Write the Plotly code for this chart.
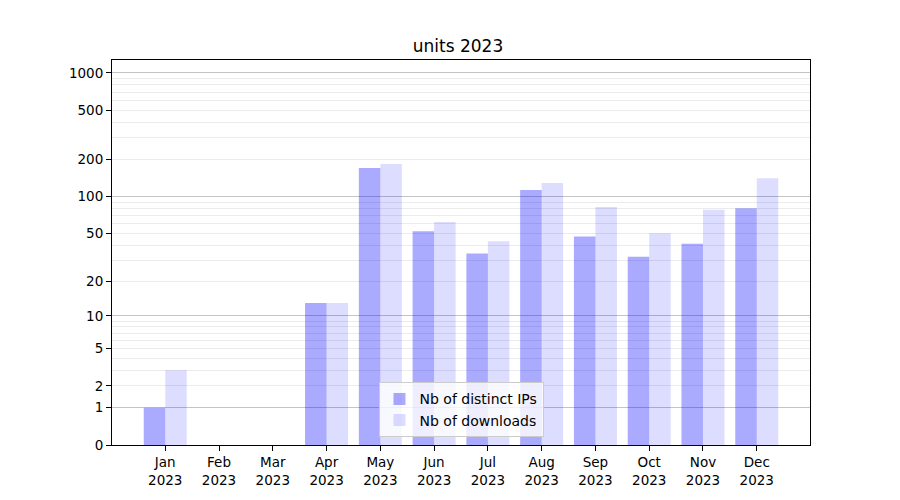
import plotly.graph_objects as go

months = ["Jan", "Feb", "Mar", "Apr", "May", "Jun", "Jul", "Aug", "Sep", "Oct", "Nov", "Dec"]
year = "2023"
distinct_ips = [1, 0, 0, 13, 170, 52, 34, 113, 47, 32, 41, 80]
downloads = [3, 0, 0, 13, 184, 62, 43, 129, 82, 50, 78, 141]
y_tick_labels = [0, 1, 2, 5, 10, 20, 50, 100, 200, 500, 1000]
major_grid = [1, 10, 100, 1000]
minor_grid = [m * d for d in (1, 10, 100) for m in range(2, 10)]

# symlog-like axis: log10(1 + value)
def sh(vals):
    return [v + 1 for v in vals]

x = list(range(len(months)))
ticktext = [f"{m}<br>{year}" for m in months]

fig = go.Figure()
fig.add_trace(go.Bar(x=x, y=sh(distinct_ips), width=0.4, offset=-0.4,
                     marker=dict(color="rgba(0,0,255,0.333)", line=dict(width=0)),
                     name="Nb of distinct IPs"))
fig.add_trace(go.Bar(x=x, y=sh(downloads), width=0.4, offset=0.0,
                     marker=dict(color="rgba(0,0,255,0.133)", line=dict(width=0)),
                     name="Nb of downloads"))
fig.add_trace(go.Scatter(x=[0], y=[1], yaxis="y2", mode="markers",
                         marker=dict(opacity=0), showlegend=False, hoverinfo="skip"))

yrange = [0, 3.105]
font = "DejaVu Sans, Liberation Sans, sans-serif"
fig.update_layout(
    width=900, height=500,
    margin=dict(l=104, r=98, t=52, b=63),
    paper_bgcolor="white", plot_bgcolor="white",
    font=dict(family=font, size=13, color="black"),
    title=dict(text="units 2023", x=0.5, xanchor="center", y=0.924, yanchor="middle",
               font=dict(size=17, color="black")),
    barmode="overlay",
    showlegend=True,
    legend=dict(x=0.5, xanchor="center", y=0.02, yanchor="bottom",
                bgcolor="rgba(255,255,255,0.8)", bordercolor="#cccccc", borderwidth=1,
                font=dict(size=14)),
    xaxis=dict(range=[-0.99, 11.99], tickmode="array", tickvals=x, ticktext=ticktext,
               showgrid=False, zeroline=False, showline=True, mirror=True,
               linecolor="black", linewidth=1, ticks="outside", ticklen=5,
               tickcolor="black", tickfont=dict(size=13.5)),
    yaxis=dict(type="log", range=yrange, tickmode="array",
               tickvals=sh(y_tick_labels), ticktext=[str(v) for v in y_tick_labels],
               showgrid=False, zeroline=False, showline=True, mirror=True,
               linecolor="black", linewidth=1, ticks="outside", ticklen=5,
               tickcolor="black", tickfont=dict(size=13.5),
               minor=dict(tickmode="array", tickvals=sh(minor_grid), showgrid=True,
                          gridcolor="#ebebeb", gridwidth=1, ticks="")),
    yaxis2=dict(type="log", range=yrange, overlaying="y", side="left",
                tickmode="array", tickvals=sh(major_grid), showticklabels=False,
                ticks="", showgrid=True, gridcolor="#c4c4c4", gridwidth=1,
                zeroline=False, showline=False),
)

fig.write_html("out.html")
